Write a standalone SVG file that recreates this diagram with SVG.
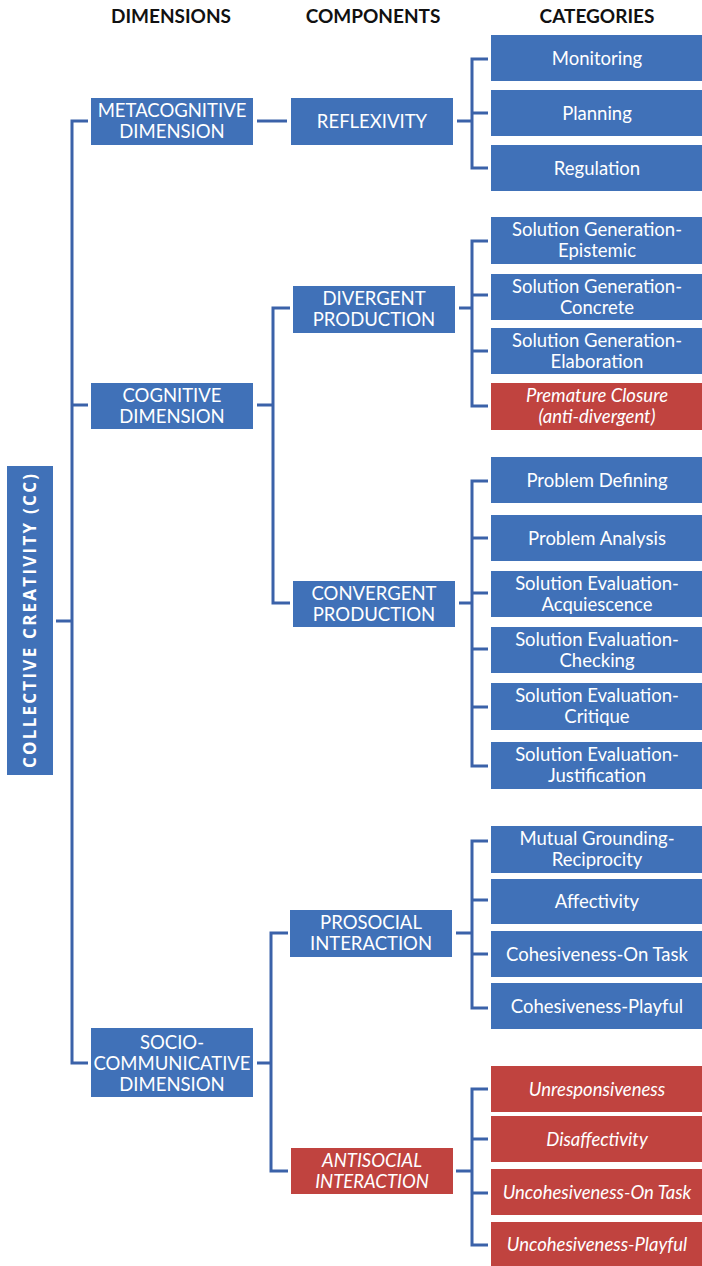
<svg xmlns="http://www.w3.org/2000/svg" width="702" height="1266" viewBox="0 0 702 1266">
<style>
.b{fill:#4071b8}
.r{fill:#c0433f}
.t{font-family:Lato,"Liberation Sans",sans-serif;font-size:18.5px;fill:#fff;text-anchor:middle}
.i{font-style:italic}
.h{font-family:Lato,"Liberation Sans",sans-serif;font-size:19px;font-weight:bold;fill:#111;text-anchor:middle}
.cc{font-family:"Open Sans","DejaVu Sans",sans-serif;font-size:17px;font-weight:bold;fill:#fff;text-anchor:middle}
.c{fill:none;stroke:#3b62a9;stroke-width:3}
</style>
<rect width="702" height="1266" fill="#fff"/>
<g id="headers">
<text class="h" x="171" y="23">DIMENSIONS</text>
<text class="h" x="373" y="23">COMPONENTS</text>
<text class="h" x="597" y="23">CATEGORIES</text>
</g>
<g id="connectors">
<path class="c" d="M56 621H72M88 121H72V1063H88M72 405H88"/>
<path class="c" d="M257 121H287"/>
<path class="c" d="M457 121H472M488 59H472V168H488M472 113H488"/>
<path class="c" d="M257 405H273M290 308H273V603H290"/>
<path class="c" d="M459 308H472M488 241H472V406H488M472 295H488M472 351H488"/>
<path class="c" d="M459 603H472M488 481H472V766H488M472 538H488M472 593H488M472 649H488M472 707H488"/>
<path class="c" d="M257 1063H271M288 933H271V1171H288"/>
<path class="c" d="M456 933H472M488 841H472V1008H488M472 900H488M472 954H488"/>
<path class="c" d="M456 1171H472M488 1089H472V1245H488M472 1139H488M472 1193H488"/>
</g>
<g id="cc">
<rect class="b" x="7" y="466" width="46" height="309"/>
<text class="cc" transform="translate(36 621) rotate(-90)" x="0" y="0" textLength="294" lengthAdjust="spacing">COLLECTIVE CREATIVITY (CC)</text>
</g>
<g id="dim-meta">
<rect class="b" x="91" y="98" width="162" height="47"/>
<text class="t" x="172" y="117">METACOGNITIVE</text>
<text class="t" x="172" y="138">DIMENSION</text>
</g>
<g id="dim-cog">
<rect class="b" x="91" y="383" width="162" height="46"/>
<text class="t" x="172" y="401.5">COGNITIVE</text>
<text class="t" x="172" y="422.5">DIMENSION</text>
</g>
<g id="dim-socio">
<rect class="b" x="91" y="1028" width="162" height="69"/>
<text class="t" x="172" y="1049">SOCIO-</text>
<text class="t" x="172" y="1070">COMMUNICATIVE</text>
<text class="t" x="172" y="1091">DIMENSION</text>
</g>
<g id="comp-reflexivity">
<rect class="b" x="291" y="98" width="162" height="47"/>
<text class="t" x="372" y="128">REFLEXIVITY</text>
</g>
<g id="comp-divergent">
<rect class="b" x="293" y="286" width="162" height="47"/>
<text class="t" x="374" y="305">DIVERGENT</text>
<text class="t" x="374" y="326">PRODUCTION</text>
</g>
<g id="comp-convergent">
<rect class="b" x="293" y="581" width="162" height="46"/>
<text class="t" x="374" y="599.5">CONVERGENT</text>
<text class="t" x="374" y="620.5">PRODUCTION</text>
</g>
<g id="comp-prosocial">
<rect class="b" x="290" y="910" width="162" height="47"/>
<text class="t" x="371" y="929">PROSOCIAL</text>
<text class="t" x="371" y="950">INTERACTION</text>
</g>
<g id="comp-antisocial">
<rect class="r" x="291" y="1148" width="162" height="46"/>
<text class="t i" x="372" y="1166.5">ANTISOCIAL</text>
<text class="t i" x="372" y="1187.5">INTERACTION</text>
</g>
<g id="cat-monitoring"><rect class="b" x="491" y="35" width="211" height="46"/><text class="t" x="597" y="64.5">Monitoring</text></g>
<g id="cat-planning"><rect class="b" x="491" y="90" width="211" height="46"/><text class="t" x="597" y="119.5">Planning</text></g>
<g id="cat-regulation"><rect class="b" x="491" y="145" width="211" height="46"/><text class="t" x="597" y="174.5">Regulation</text></g>
<g id="cat-sg-epistemic"><rect class="b" x="491" y="217" width="211" height="47"/><text class="t" x="597" y="236">Solution Generation-</text><text class="t" x="597" y="257">Epistemic</text></g>
<g id="cat-sg-concrete"><rect class="b" x="491" y="274" width="211" height="46"/><text class="t" x="597" y="292.5">Solution Generation-</text><text class="t" x="597" y="313.5">Concrete</text></g>
<g id="cat-sg-elaboration"><rect class="b" x="491" y="328" width="211" height="46"/><text class="t" x="597" y="346.5">Solution Generation-</text><text class="t" x="597" y="367.5">Elaboration</text></g>
<g id="cat-premature"><rect class="r" x="491" y="383" width="211" height="47"/><text class="t i" x="597" y="402">Premature Closure</text><text class="t i" x="597" y="423">(anti-divergent)</text></g>
<g id="cat-problem-defining"><rect class="b" x="491" y="457" width="211" height="46"/><text class="t" x="597" y="486.5">Problem Defining</text></g>
<g id="cat-problem-analysis"><rect class="b" x="491" y="515" width="211" height="46"/><text class="t" x="597" y="544.5">Problem Analysis</text></g>
<g id="cat-se-acquiescence"><rect class="b" x="491" y="571" width="211" height="46"/><text class="t" x="597" y="589.5">Solution Evaluation-</text><text class="t" x="597" y="610.5">Acquiescence</text></g>
<g id="cat-se-checking"><rect class="b" x="491" y="627" width="211" height="46"/><text class="t" x="597" y="645.5">Solution Evaluation-</text><text class="t" x="597" y="666.5">Checking</text></g>
<g id="cat-se-critique"><rect class="b" x="491" y="683" width="211" height="47"/><text class="t" x="597" y="702">Solution Evaluation-</text><text class="t" x="597" y="723">Critique</text></g>
<g id="cat-se-justification"><rect class="b" x="491" y="742" width="211" height="47"/><text class="t" x="597" y="761">Solution Evaluation-</text><text class="t" x="597" y="782">Justification</text></g>
<g id="cat-mutual-grounding"><rect class="b" x="491" y="826" width="211" height="47"/><text class="t" x="597" y="845">Mutual Grounding-</text><text class="t" x="597" y="866">Reciprocity</text></g>
<g id="cat-affectivity"><rect class="b" x="491" y="879" width="211" height="45"/><text class="t" x="597" y="908">Affectivity</text></g>
<g id="cat-cohesiveness-task"><rect class="b" x="491" y="931" width="211" height="46"/><text class="t" x="597" y="960.5">Cohesiveness-On Task</text></g>
<g id="cat-cohesiveness-playful"><rect class="b" x="491" y="983" width="211" height="46"/><text class="t" x="597" y="1012.5">Cohesiveness-Playful</text></g>
<g id="cat-unresponsiveness"><rect class="r" x="491" y="1066" width="211" height="46"/><text class="t i" x="597" y="1095.5">Unresponsiveness</text></g>
<g id="cat-disaffectivity"><rect class="r" x="491" y="1116" width="211" height="46"/><text class="t i" x="597" y="1145.5">Disaffectivity</text></g>
<g id="cat-uncohesiveness-task"><rect class="r" x="491" y="1169" width="211" height="46"/><text class="t i" x="597" y="1198.5">Uncohesiveness-On Task</text></g>
<g id="cat-uncohesiveness-playful"><rect class="r" x="491" y="1222" width="211" height="44"/><text class="t i" x="597" y="1250.5">Uncohesiveness-Playful</text></g>
</svg>
